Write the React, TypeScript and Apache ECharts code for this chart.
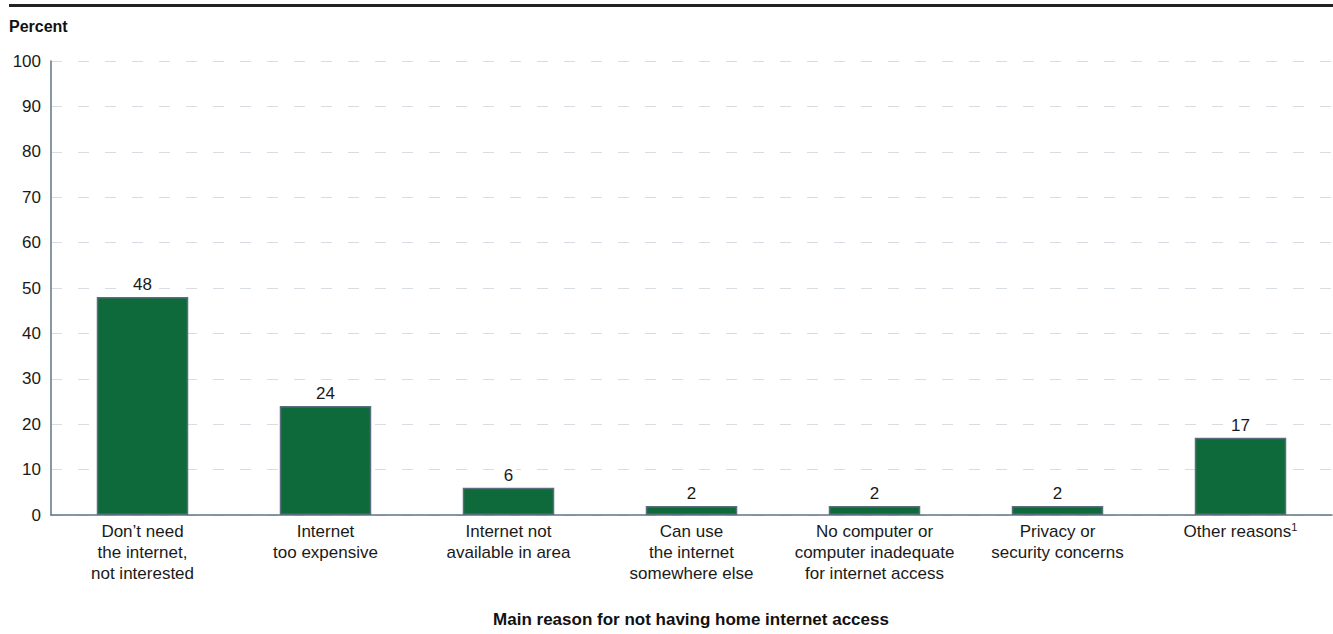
import React, { useEffect, useRef } from "react";
import * as echarts from "echarts";

// Main reasons households give for not having internet at home (percent)
const categories = [
  "Don’t need\nthe internet,\nnot interested",
  "Internet\ntoo expensive",
  "Internet not\navailable in area",
  "Can use\nthe internet\nsomewhere else",
  "No computer or\ncomputer inadequate\nfor internet access",
  "Privacy or\nsecurity concerns",
  "Other reasons{sup|1}",
];
const percents = [48, 24, 6, 2, 2, 2, 17];
const yTicks = [0, 10, 20, 30, 40, 50, 60, 70, 80, 90, 100];

const FONT = "'Liberation Sans', Arial, Helvetica, sans-serif";

export default function App() {
  const ref = useRef<HTMLDivElement>(null);

  useEffect(() => {
    if (!ref.current) return;
    const chart = echarts.init(ref.current, undefined, { renderer: "svg" });
    chart.setOption({
      animation: false,
      grid: { left: 51, right: 1, top: 61, bottom: 119, containLabel: false },
      xAxis: {
        type: "category",
        data: categories,
        axisLine: { show: true, lineStyle: { color: "#5f7586", width: 1.5 } },
        axisTick: { show: false },
        axisLabel: {
          interval: 0,
          color: "#1a1a1a",
          fontFamily: FONT,
          fontSize: 17,
          lineHeight: 21,
          margin: 6,
          rich: {
            sup: { fontSize: 11, verticalAlign: "top", padding: [0, 0, 7, 0], fontFamily: FONT, color: "#1a1a1a" },
          },
        },
      },
      yAxis: {
        type: "value",
        min: 0,
        max: 100,
        interval: 10,
        axisLine: { show: true, lineStyle: { color: "#5f7586", width: 1.5 } },
        axisTick: { show: false },
        axisLabel: {
          color: "#1a1a1a",
          fontFamily: FONT,
          fontSize: 17,
          margin: 10,
          formatter: (v: number) => (yTicks.includes(v) ? String(v) : ""),
        },
        splitLine: {
          show: true,
          lineStyle: { color: "#d7dde2", width: 1, type: [11, 16] },
        },
      },
      series: [
        {
          type: "bar",
          data: percents,
          barWidth: "50%",
          itemStyle: { color: "#0e6a3a", borderColor: "#5a6e7e", borderWidth: 1.5 },
          label: {
            show: true,
            position: "top",
            distance: 4,
            color: "#1a1a1a",
            fontFamily: FONT,
            fontSize: 17,
            backgroundColor: "#ffffff",
            padding: [0, 3],
          },
        },
      ],
      graphic: [
        {
          type: "rect",
          shape: { x: 9, y: 4, width: 1324, height: 3 },
          style: { fill: "#222222" },
        },
        {
          type: "text",
          left: 9,
          top: 18,
          style: {
            text: "Percent",
            font: `bold 16px ${FONT}`,
            fill: "#111111",
          },
        },
        {
          type: "text",
          x: 691,
          y: 619,
          style: {
            text: "Main reason for not having home internet access",
            font: `bold 17px ${FONT}`,
            fill: "#111111",
            align: "center",
            verticalAlign: "middle",
          },
        },
      ],
    });
    return () => chart.dispose();
  }, []);

  return (
    <div
      ref={ref}
      style={{ position: "fixed", left: 0, top: 0, width: 1333, height: 634, background: "#ffffff" }}
    />
  );
}
